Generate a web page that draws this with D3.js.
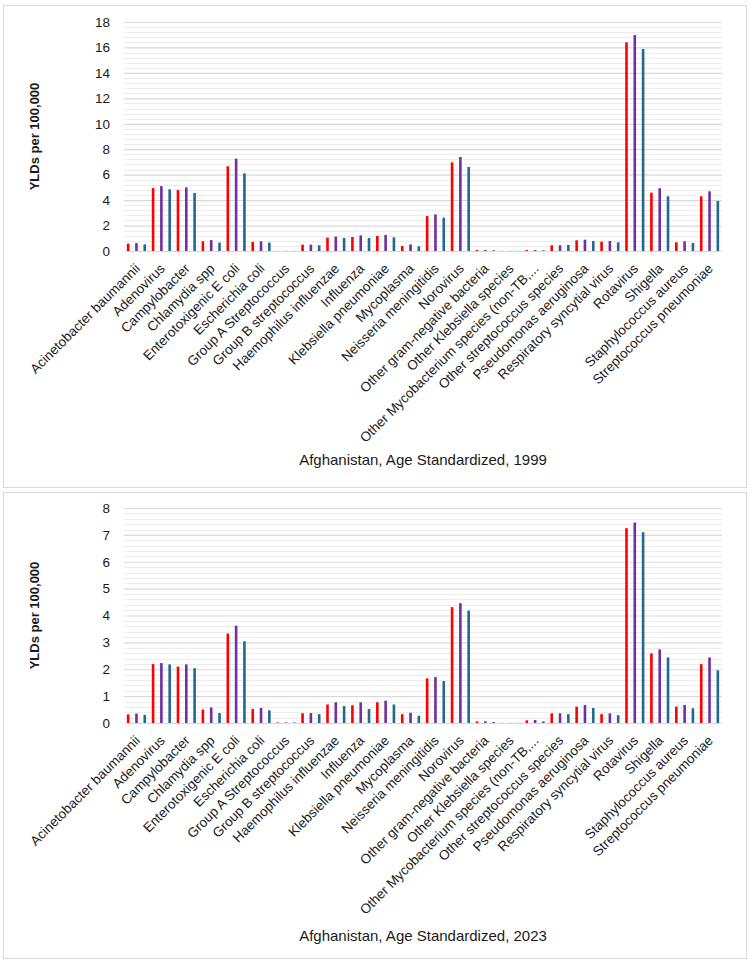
<!DOCTYPE html>
<html>
<head>
<meta charset="utf-8">
<script src="https://cdn.jsdelivr.net/npm/d3@7"></script>
<style>
  body { margin: 0; background: #fff; }
  svg { display: block; font-family: "Liberation Sans", Arial, sans-serif; }
</style>
</head>
<body>
<svg id="chart" width="750" height="963"></svg>
<script>
// Categories (x axis)
const categories = [
  'Acinetobacter baumannii', 'Adenovirus', 'Campylobacter', 'Chlamydia spp',
  'Enterotoxigenic E coli', 'Escherichia coli', 'Group A Streptococcus',
  'Group B streptococcus', 'Haemophilus influenzae', 'Influenza',
  'Klebsiella pneumoniae', 'Mycoplasma', 'Neisseria meningitidis', 'Norovirus',
  'Other gram-negative bacteria', 'Other Klebsiella species',
  'Other Mycobacterium species (non-TB,...', 'Other streptococcus species',
  'Pseudomonas aeruginosa', 'Respiratory syncytial virus', 'Rotavirus',
  'Shigella', 'Staphylococcus aureus', 'Streptococcus pneumoniae'
];

const seriesNames = ['Series 1', 'Series 2', 'Series 3'];
const seriesColors = ['#ff0000', '#7030a0', '#22698c'];

// 1999 values, YLDs per 100,000
const red1999 = [0.58, 4.95, 4.8, 0.76, 6.66, 0.71, 0.01, 0.5, 1.05, 1.1, 1.18, 0.39, 2.75, 6.97, 0.08, 0.01, 0.08, 0.45, 0.84, 0.73, 16.4, 4.59, 0.68, 4.3];
const purple1999 = [0.62, 5.1, 5.0, 0.86, 7.26, 0.76, 0.01, 0.5, 1.13, 1.23, 1.26, 0.52, 2.88, 7.39, 0.08, 0.01, 0.08, 0.45, 0.89, 0.79, 16.98, 4.93, 0.76, 4.69];
const teal1999 = [0.52, 4.85, 4.56, 0.66, 6.1, 0.66, 0.01, 0.45, 1.02, 1.02, 1.07, 0.37, 2.62, 6.6, 0.06, 0.01, 0.06, 0.47, 0.79, 0.68, 15.88, 4.3, 0.63, 3.93];

// 2023 values
const red2023 = [0.32, 2.19, 2.1, 0.5, 3.33, 0.52, 0.02, 0.36, 0.69, 0.66, 0.77, 0.33, 1.66, 4.31, 0.06, 0.005, 0.1, 0.36, 0.61, 0.33, 7.25, 2.59, 0.61, 2.19];
const purple2023 = [0.35, 2.23, 2.18, 0.58, 3.62, 0.56, 0.02, 0.37, 0.77, 0.77, 0.83, 0.38, 1.71, 4.46, 0.06, 0.005, 0.11, 0.36, 0.67, 0.36, 7.46, 2.74, 0.67, 2.44];
const teal2023 = [0.3, 2.18, 2.04, 0.37, 3.04, 0.47, 0.02, 0.33, 0.63, 0.52, 0.69, 0.27, 1.56, 4.18, 0.04, 0.005, 0.06, 0.33, 0.56, 0.29, 7.1, 2.44, 0.55, 1.96];

const yTicks1999 = [0, 2, 4, 6, 8, 10, 12, 14, 16, 18];
const yTicks2023 = [0, 1, 2, 3, 4, 5, 6, 7, 8];

const svg = d3.select('#chart');

function drawPanel(p) {
  const g = svg.append('g');

  // Panel frame
  g.append('rect')
    .attr('x', 3.5).attr('y', p.top + 0.5)
    .attr('width', 743).attr('height', p.bottom - p.top)
    .attr('fill', '#fff').attr('stroke', '#d9d9d9').attr('stroke-width', 1);

  const x0 = d3.scaleBand().domain(categories).range([124, 722]).padding(0);
  const x1 = d3.scaleBand().domain(seriesNames).range([0, x0.bandwidth()]).padding(0);
  const yMax = p.ticks[p.ticks.length - 1];
  const y = d3.scaleLinear().domain([0, yMax]).range([p.plotBottom, p.plotTop]);

  // Minor gridlines (major / 5)
  const minorStep = (p.ticks[1] - p.ticks[0]) / 5;
  const minor = d3.range(0, yMax + 1e-9, minorStep).filter((v, i) => i % 5 !== 0);
  g.append('g').selectAll('line').data(minor).join('line')
    .attr('x1', 124).attr('x2', 722)
    .attr('y1', (d) => Math.round(y(d)) + 0.5).attr('y2', (d) => Math.round(y(d)) + 0.5)
    .attr('stroke', '#ececec').attr('stroke-width', 1);

  // Major gridlines + y tick labels
  const yAxis = d3.axisLeft(y).tickValues(p.ticks).tickSize(-(722 - 124)).tickPadding(14);
  const ga = g.append('g').attr('transform', 'translate(124,0)').call(yAxis);
  ga.select('.domain').remove();
  ga.selectAll('.tick line').attr('stroke', '#d9d9d9').attr('stroke-width', 1.2);
  ga.selectAll('.tick text')
    .attr('font-size', 13.5).attr('fill', '#1a1a1a')
    .attr('font-family', '"Liberation Sans", Arial, sans-serif');

  // Bars
  const series = p.values.map((vals, si) => ({ name: seriesNames[si], color: seriesColors[si], vals }));
  const barW = 2.6;
  g.append('g').selectAll('g').data(series).join('g')
    .attr('fill', (d) => d.color)
    .selectAll('rect')
    .data((d) => d.vals.map((v, i) => ({ cat: categories[i], s: d.name, v })))
    .join('rect')
    .attr('x', (d) => x0(d.cat) + x1(d.s) + x1.bandwidth() / 2 - barW / 2)
    .attr('width', barW)
    .attr('y', (d) => y(d.v))
    .attr('height', (d) => y(0) - y(d.v));

  // Category labels, rotated
  g.append('g').selectAll('text').data(categories).join('text')
    .attr('transform', (d) => `translate(${x0(d) + x0.bandwidth() / 2 + 1},${p.plotBottom + 15}) rotate(-45)`)
    .attr('text-anchor', 'end')
    .attr('dy', '0.35em')
    .attr('font-size', 13.5)
    .attr('fill', '#1a1a1a')
    .text((d) => d);

  // Y axis title
  g.append('text')
    .attr('transform', `translate(39,${(p.plotTop + p.plotBottom) / 2}) rotate(-90)`)
    .attr('text-anchor', 'middle')
    .attr('font-size', 13).attr('font-weight', 'bold').attr('fill', '#1a1a1a')
    .text('YLDs per 100,000');

  // X axis title
  g.append('text')
    .attr('x', 423).attr('y', p.titleY)
    .attr('text-anchor', 'middle')
    .attr('font-size', 15).attr('fill', '#1a1a1a')
    .text(p.title);
}

drawPanel({
  values: [red1999, purple1999, teal1999], ticks: yTicks1999,
  title: 'Afghanistan, Age Standardized, 1999',
  top: 5, bottom: 487, plotTop: 22, plotBottom: 251, titleY: 465
});
drawPanel({
  values: [red2023, purple2023, teal2023], ticks: yTicks2023,
  title: 'Afghanistan, Age Standardized, 2023',
  top: 492, bottom: 958, plotTop: 508, plotBottom: 723, titleY: 941
});
</script>
</body>
</html>
